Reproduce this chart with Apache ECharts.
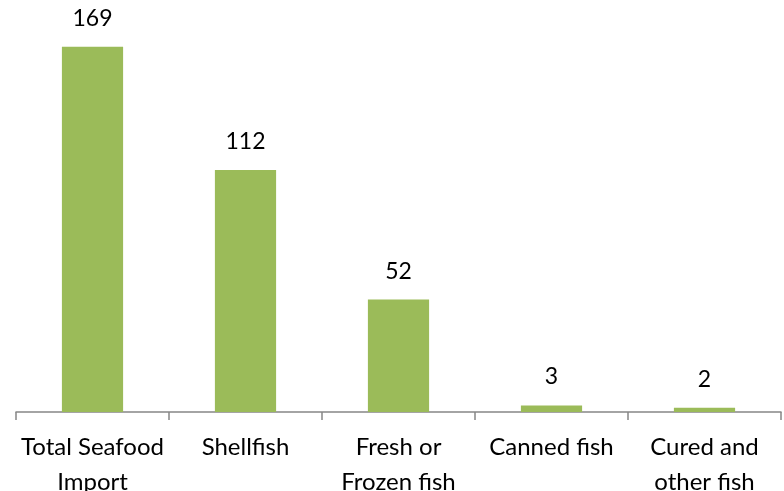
<!DOCTYPE html>
<html><head><meta charset="utf-8">
<script src="https://cdn.jsdelivr.net/npm/echarts@6/dist/echarts.min.js"></script>
<style>html,body{margin:0;padding:0;background:#fff}#c{width:784px;height:491px}</style>
</head><body><div id="c"></div>
<script>
const categories = ["Total Seafood\nImport", "Shellfish", "Fresh or\nFrozen fish", "Canned fish", "Cured and\nother fish"];
const values = [169, 112, 52, 3, 2];

const chart = echarts.init(document.getElementById('c'), null, {renderer: 'canvas'});
chart.setOption({
  animation: false,
  grid: {left: 16, right: 3, top: 23, bottom: 79, containLabel: false, outerBoundsMode: 'none'},
  xAxis: {
    type: 'category', data: categories,
    axisLine: {lineStyle: {color: '#868686', width: 1.5}},
    axisTick: {show: true, length: 8, lineStyle: {color: '#868686', width: 1.5}},
    axisLabel: {color: '#000', fontFamily: 'Lato', fontSize: 24, margin: 18, lineHeight: 35, interval: 0, hideOverlap: false}
  },
  yAxis: {type: 'value', min: 0, max: 180, show: false, splitLine: {show: false}},
  series: [{
    type: 'bar', data: values, barWidth: '40%',
    itemStyle: {color: '#9BBB59'},
    label: {show: true, position: 'top', distance: 17, color: '#000', fontFamily: 'Lato', fontSize: 23}
  }]
});
</script></body></html>
